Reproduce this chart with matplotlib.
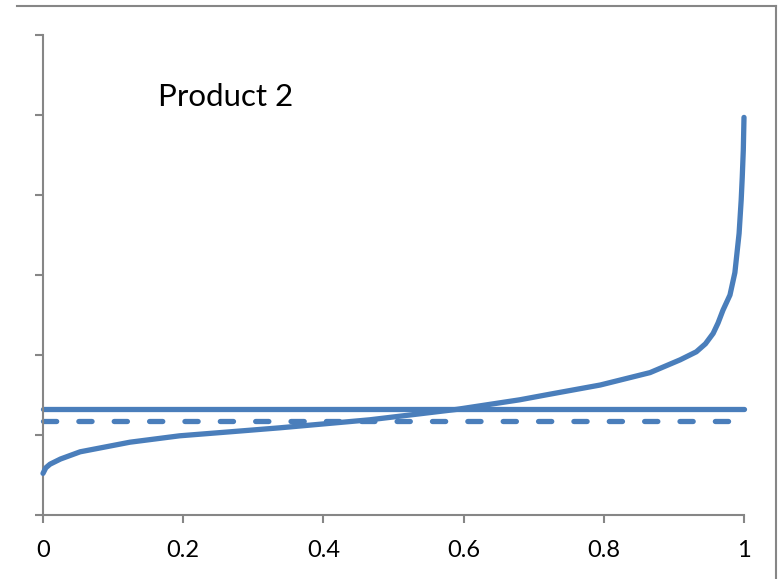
import numpy as np
import matplotlib.pyplot as plt
from matplotlib.lines import Line2D

# data
share = [0.0, 0.004, 0.01, 0.025, 0.053, 0.124, 0.195, 0.267, 0.338, 0.466,
         0.59, 0.68, 0.723, 0.795, 0.866, 0.909, 0.932, 0.945, 0.956, 0.963,
         0.970, 0.980, 0.987, 0.993, 0.996, 0.9975, 0.999, 1.0]
value = [0.52, 0.59, 0.635, 0.70, 0.79, 0.91, 0.99, 1.04, 1.09, 1.19,
         1.32, 1.44, 1.51, 1.625, 1.78, 1.94, 2.04, 2.14, 2.27, 2.40,
         2.56, 2.75, 3.03, 3.52, 3.94, 4.22, 4.56, 4.97]
solid_level = 1.325
dashed_level = 1.18
xticks = [0, 0.2, 0.4, 0.6, 0.8, 1]
yticks = [0, 1, 2, 3, 4, 5, 6]

blue = '#4A7EBB'
grey = '#868686'

plt.rcParams['font.family'] = ['Lato', 'DejaVu Sans']

fig = plt.figure(figsize=(7.83, 5.79), dpi=100)
W, H = 783, 579
ax = fig.add_axes([43 / W, (H - 515) / H, 701 / W, 480 / H])

ax.plot(share, value, color=blue, lw=3.8, solid_capstyle='round',
        solid_joinstyle='round', clip_on=False, zorder=3)
ax.plot([0, 1], [solid_level, solid_level], color=blue, lw=3.8,
        solid_capstyle='round', clip_on=False)
ax.plot([0, 1], [dashed_level, dashed_level], color=blue, lw=3.8,
        linestyle=(0, (2.5, 4.2)), dash_capstyle='round', clip_on=False)

ax.set_xlim(0, 1)
ax.set_ylim(0, 6)
ax.set_xticks(xticks)
ax.set_xticklabels(['0', '0.2', '0.4', '0.6', '0.8', '1'])
ax.set_yticks(yticks)
ax.set_yticklabels([])
for s in ['top', 'right']:
    ax.spines[s].set_visible(False)
for s in ['left', 'bottom']:
    ax.spines[s].set_color(grey)
    ax.spines[s].set_linewidth(1.5)
ax.tick_params(axis='both', direction='out', length=6, width=1.5, color=grey,
               labelsize=17, pad=12)

ax.text((158 - 43) / 701, 1 - (97 - 35) / 480, 'Product 2',
        transform=ax.transAxes, fontsize=22.5, va='center', ha='left')

# chart frame (only top and right edges visible)
fig.add_artist(Line2D([17 / W, 776 / W], [1 - 5.7 / H, 1 - 5.7 / H],
                      color=grey, lw=1.5, transform=fig.transFigure))
fig.add_artist(Line2D([776 / W, 776 / W], [1 - 5.7 / H, 0],
                      color=grey, lw=1.5, transform=fig.transFigure))

fig.savefig('out.png', dpi=100)
